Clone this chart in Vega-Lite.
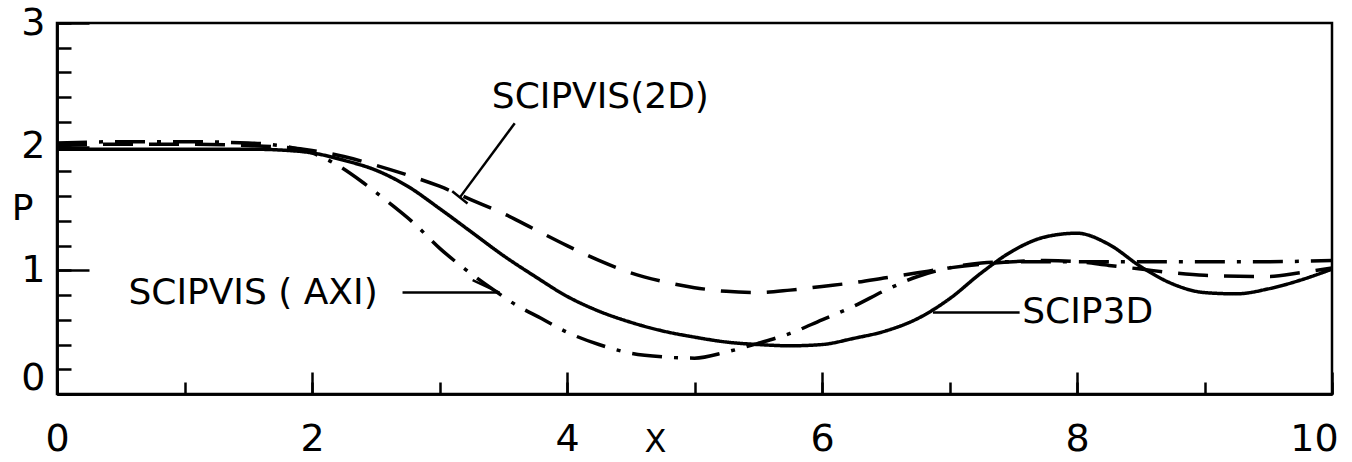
{
  "$schema": "https://vega.github.io/schema/vega-lite/v6.json",
  "width": 1275,
  "height": 371,
  "autosize": {"type": "none"},
  "padding": {"left": 57, "top": 23, "right": 20, "bottom": 68},
  "background": "white",
  "config": {"view": {"stroke": "black", "strokeWidth": 2.5}, "font": "DejaVu Sans"},
  "datasets": {
    "curves": [
      {"series": "SCIP3D", "x": 0, "y": 1.98}, {"series": "SCIP3D", "x": 0.5, "y": 1.98}, {"series": "SCIP3D", "x": 1, "y": 1.98}, {"series": "SCIP3D", "x": 1.5, "y": 1.98}, {"series": "SCIP3D", "x": 1.8, "y": 1.97}, {"series": "SCIP3D", "x": 2.0, "y": 1.95}, {"series": "SCIP3D", "x": 2.25, "y": 1.89}, {"series": "SCIP3D", "x": 2.5, "y": 1.81}, {"series": "SCIP3D", "x": 2.75, "y": 1.68}, {"series": "SCIP3D", "x": 3.0, "y": 1.5}, {"series": "SCIP3D", "x": 3.25, "y": 1.31}, {"series": "SCIP3D", "x": 3.5, "y": 1.12}, {"series": "SCIP3D", "x": 3.75, "y": 0.95}, {"series": "SCIP3D", "x": 4.0, "y": 0.79}, {"series": "SCIP3D", "x": 4.25, "y": 0.67}, {"series": "SCIP3D", "x": 4.5, "y": 0.58}, {"series": "SCIP3D", "x": 4.75, "y": 0.51}, {"series": "SCIP3D", "x": 5.0, "y": 0.46}, {"series": "SCIP3D", "x": 5.25, "y": 0.42}, {"series": "SCIP3D", "x": 5.5, "y": 0.4}, {"series": "SCIP3D", "x": 5.75, "y": 0.39}, {"series": "SCIP3D", "x": 6.0, "y": 0.4}, {"series": "SCIP3D", "x": 6.25, "y": 0.45}, {"series": "SCIP3D", "x": 6.5, "y": 0.51}, {"series": "SCIP3D", "x": 6.75, "y": 0.61}, {"series": "SCIP3D", "x": 7.0, "y": 0.77}, {"series": "SCIP3D", "x": 7.25, "y": 0.98}, {"series": "SCIP3D", "x": 7.5, "y": 1.16}, {"series": "SCIP3D", "x": 7.75, "y": 1.27}, {"series": "SCIP3D", "x": 8.0, "y": 1.3}, {"series": "SCIP3D", "x": 8.25, "y": 1.21}, {"series": "SCIP3D", "x": 8.5, "y": 1.03}, {"series": "SCIP3D", "x": 8.75, "y": 0.89}, {"series": "SCIP3D", "x": 9.0, "y": 0.82}, {"series": "SCIP3D", "x": 9.25, "y": 0.81}, {"series": "SCIP3D", "x": 9.5, "y": 0.85}, {"series": "SCIP3D", "x": 9.75, "y": 0.92}, {"series": "SCIP3D", "x": 10, "y": 1.01},
      {"series": "SCIPVIS(2D)", "x": 0, "y": 2.01}, {"series": "SCIPVIS(2D)", "x": 0.5, "y": 2.02}, {"series": "SCIPVIS(2D)", "x": 1, "y": 2.02}, {"series": "SCIPVIS(2D)", "x": 1.5, "y": 2.01}, {"series": "SCIPVIS(2D)", "x": 2.0, "y": 1.97}, {"series": "SCIPVIS(2D)", "x": 2.25, "y": 1.92}, {"series": "SCIPVIS(2D)", "x": 2.5, "y": 1.85}, {"series": "SCIPVIS(2D)", "x": 2.75, "y": 1.77}, {"series": "SCIPVIS(2D)", "x": 3.0, "y": 1.68}, {"series": "SCIPVIS(2D)", "x": 3.25, "y": 1.57}, {"series": "SCIPVIS(2D)", "x": 3.5, "y": 1.46}, {"series": "SCIPVIS(2D)", "x": 3.75, "y": 1.33}, {"series": "SCIPVIS(2D)", "x": 4.0, "y": 1.2}, {"series": "SCIPVIS(2D)", "x": 4.25, "y": 1.08}, {"series": "SCIPVIS(2D)", "x": 4.5, "y": 0.98}, {"series": "SCIPVIS(2D)", "x": 4.75, "y": 0.91}, {"series": "SCIPVIS(2D)", "x": 5.0, "y": 0.86}, {"series": "SCIPVIS(2D)", "x": 5.25, "y": 0.83}, {"series": "SCIPVIS(2D)", "x": 5.5, "y": 0.82}, {"series": "SCIPVIS(2D)", "x": 5.75, "y": 0.84}, {"series": "SCIPVIS(2D)", "x": 6.0, "y": 0.87}, {"series": "SCIPVIS(2D)", "x": 6.25, "y": 0.9}, {"series": "SCIPVIS(2D)", "x": 6.5, "y": 0.94}, {"series": "SCIPVIS(2D)", "x": 6.75, "y": 0.98}, {"series": "SCIPVIS(2D)", "x": 7.0, "y": 1.02}, {"series": "SCIPVIS(2D)", "x": 7.25, "y": 1.05}, {"series": "SCIPVIS(2D)", "x": 7.5, "y": 1.07}, {"series": "SCIPVIS(2D)", "x": 7.75, "y": 1.08}, {"series": "SCIPVIS(2D)", "x": 8.0, "y": 1.07}, {"series": "SCIPVIS(2D)", "x": 8.25, "y": 1.04}, {"series": "SCIPVIS(2D)", "x": 8.5, "y": 1.01}, {"series": "SCIPVIS(2D)", "x": 8.75, "y": 0.98}, {"series": "SCIPVIS(2D)", "x": 9.0, "y": 0.96}, {"series": "SCIPVIS(2D)", "x": 9.5, "y": 0.95}, {"series": "SCIPVIS(2D)", "x": 9.75, "y": 0.98}, {"series": "SCIPVIS(2D)", "x": 10, "y": 1.02},
      {"series": "SCIPVIS(AXI)", "x": 0, "y": 2.03}, {"series": "SCIPVIS(AXI)", "x": 0.5, "y": 2.04}, {"series": "SCIPVIS(AXI)", "x": 1, "y": 2.04}, {"series": "SCIPVIS(AXI)", "x": 1.5, "y": 2.03}, {"series": "SCIPVIS(AXI)", "x": 1.8, "y": 2.0}, {"series": "SCIPVIS(AXI)", "x": 2.0, "y": 1.95}, {"series": "SCIPVIS(AXI)", "x": 2.2, "y": 1.85}, {"series": "SCIPVIS(AXI)", "x": 2.4, "y": 1.71}, {"series": "SCIPVIS(AXI)", "x": 2.6, "y": 1.55}, {"series": "SCIPVIS(AXI)", "x": 2.8, "y": 1.38}, {"series": "SCIPVIS(AXI)", "x": 3.0, "y": 1.18}, {"series": "SCIPVIS(AXI)", "x": 3.2, "y": 1.01}, {"series": "SCIPVIS(AXI)", "x": 3.4, "y": 0.86}, {"series": "SCIPVIS(AXI)", "x": 3.6, "y": 0.72}, {"series": "SCIPVIS(AXI)", "x": 3.8, "y": 0.61}, {"series": "SCIPVIS(AXI)", "x": 4.0, "y": 0.5}, {"series": "SCIPVIS(AXI)", "x": 4.25, "y": 0.4}, {"series": "SCIPVIS(AXI)", "x": 4.5, "y": 0.33}, {"series": "SCIPVIS(AXI)", "x": 4.75, "y": 0.3}, {"series": "SCIPVIS(AXI)", "x": 5.0, "y": 0.29}, {"series": "SCIPVIS(AXI)", "x": 5.25, "y": 0.34}, {"series": "SCIPVIS(AXI)", "x": 5.5, "y": 0.41}, {"series": "SCIPVIS(AXI)", "x": 5.75, "y": 0.49}, {"series": "SCIPVIS(AXI)", "x": 6.0, "y": 0.6}, {"series": "SCIPVIS(AXI)", "x": 6.25, "y": 0.71}, {"series": "SCIPVIS(AXI)", "x": 6.5, "y": 0.84}, {"series": "SCIPVIS(AXI)", "x": 6.75, "y": 0.95}, {"series": "SCIPVIS(AXI)", "x": 7.0, "y": 1.02}, {"series": "SCIPVIS(AXI)", "x": 7.25, "y": 1.06}, {"series": "SCIPVIS(AXI)", "x": 7.5, "y": 1.07}, {"series": "SCIPVIS(AXI)", "x": 8.0, "y": 1.07}, {"series": "SCIPVIS(AXI)", "x": 8.5, "y": 1.07}, {"series": "SCIPVIS(AXI)", "x": 9.0, "y": 1.07}, {"series": "SCIPVIS(AXI)", "x": 9.5, "y": 1.07}, {"series": "SCIPVIS(AXI)", "x": 10, "y": 1.08}
    ],
    "leaders": [
      {"x": 3.59, "y": 2.19, "x2": 3.16, "y2": 1.59},
      {"x": 3.10, "y": 1.64, "x2": 3.22, "y2": 1.54},
      {"x": 2.71, "y": 0.82, "x2": 3.47, "y2": 0.82},
      {"x": 3.26, "y": 0.92, "x2": 3.47, "y2": 0.82},
      {"x": 6.87, "y": 0.66, "x2": 7.55, "y2": 0.66}
    ],
    "notes": [
      {"x": 3.41, "y": 2.40, "label": "SCIPVIS(2D)"},
      {"x": 0.56, "y": 0.82, "label": "SCIPVIS ( AXI)"},
      {"x": 7.57, "y": 0.66, "label": "SCIP3D"}
    ]
  },
  "resolve": {"axis": {"x": "independent", "y": "independent"}},
  "layer": [
    {
      "data": {"name": "curves"},
      "mark": {"type": "line", "interpolate": "monotone", "color": "black", "strokeWidth": 3.5, "clip": true},
      "encoding": {
        "x": {
          "field": "x", "type": "quantitative",
          "scale": {"domain": [0, 10], "nice": false},
          "axis": {
            "orient": "bottom", "offset": 0,
            "values": [0, 1, 2, 3, 4, 5, 6, 7, 8, 9, 10], "tickCount": 100,
            "labels": false, "title": null,
            "tickSize": -12, "tickColor": "black", "tickWidth": 2.5,
            "domainColor": "black", "domainWidth": 2.5, "grid": false
          }
        },
        "y": {
          "field": "y", "type": "quantitative",
          "scale": {"domain": [0, 3], "nice": false},
          "axis": {
            "orient": "left", "offset": 0,
            "values": [0, 0.2, 0.4, 0.6, 0.8, 1, 1.2, 1.4, 1.6, 1.8, 2, 2.2, 2.4, 2.6, 2.8, 3], "tickCount": 100,
            "labels": false, "title": null,
            "tickSize": -14, "tickColor": "black", "tickWidth": 2.5,
            "domainColor": "black", "domainWidth": 2.5, "grid": false
          }
        },
        "strokeDash": {
          "field": "series", "type": "nominal",
          "scale": {"domain": ["SCIP3D", "SCIPVIS(2D)", "SCIPVIS(AXI)"], "range": [[1, 0], [30, 16], [30, 12, 4, 12]]},
          "legend": null
        }
      }
    },
    {
      "data": {"name": "leaders"},
      "mark": {"type": "rule", "color": "black", "strokeWidth": 2.5},
      "encoding": {
        "x": {
          "field": "x", "type": "quantitative",
          "axis": {
            "orient": "bottom", "offset": 0,
            "values": [0, 2, 4, 6, 8, 10], "tickCount": 100,
            "format": "d",
            "labelFont": "DejaVu Sans", "labelFontSize": 38, "labelColor": "black",
            "labelPadding": 48, "labelFlush": false, "labelOverlap": false,
            "labelOffset": {"condition": {"test": "datum.value === 10", "value": -18}, "value": 0},
            "tickSize": -22, "tickColor": "black", "tickWidth": 2.5,
            "domainColor": "black", "domainWidth": 2.5, "grid": false,
            "title": "X", "titleFont": "DejaVu Sans", "titleFontSize": 32, "titleFontWeight": "normal", "titleColor": "black",
            "titleX": 598, "titleY": 47, "titleAlign": "center", "titleBaseline": "middle"
          }
        },
        "y": {
          "field": "y", "type": "quantitative",
          "axis": {
            "orient": "left", "offset": 0,
            "values": [0, 1, 2, 3], "tickCount": 100,
            "format": "d",
            "labelFont": "DejaVu Sans", "labelFontSize": 38, "labelColor": "black",
            "labelPadding": 44, "labelOverlap": false, "labelFlush": false,
            "labelOffset": {"condition": {"test": "datum.value === 0", "value": -16}, "value": 0},
            "tickSize": -32, "tickColor": "black", "tickWidth": 2.5,
            "domainColor": "black", "domainWidth": 2.5, "grid": false,
            "title": "P", "titleAngle": 0, "titleFont": "DejaVu Sans", "titleFontSize": 36, "titleFontWeight": "normal", "titleColor": "black",
            "titleX": -35, "titleY": 185, "titleAlign": "center", "titleBaseline": "middle"
          }
        },
        "x2": {"field": "x2"},
        "y2": {"field": "y2"}
      }
    },
    {
      "data": {"name": "notes"},
      "mark": {"type": "text", "align": "left", "baseline": "middle", "font": "DejaVu Sans", "fontSize": 36, "color": "black"},
      "encoding": {
        "x": {"field": "x", "type": "quantitative", "axis": null},
        "y": {"field": "y", "type": "quantitative", "axis": null},
        "text": {"field": "label"}
      }
    }
  ]
}
